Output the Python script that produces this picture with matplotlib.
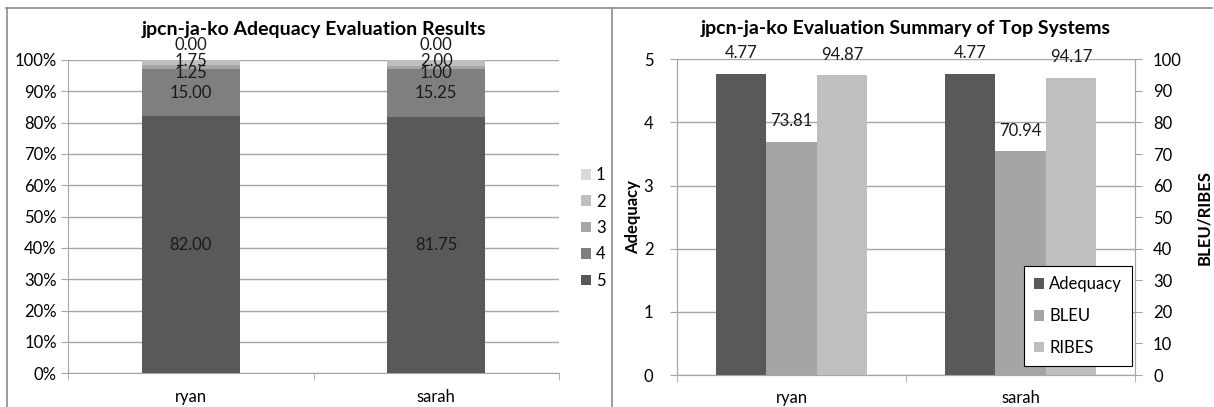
import matplotlib.pyplot as plt
import numpy as np
from matplotlib.lines import Line2D

plt.rcParams['font.family'] = ['Lato', 'DejaVu Sans']

# data
systems = ['ryan', 'sarah']
levels = ['5', '4', '3', '2', '1']
share_5 = [82.00, 81.75]
share_4 = [15.00, 15.25]
share_3 = [1.25, 1.00]
share_2 = [1.75, 2.00]
share_1 = [0.00, 0.00]

adequacy = [4.77, 4.77]
bleu = [73.81, 70.94]
ribes = [94.87, 94.17]

level_colors = ['#595959', '#7f7f7f', '#a5a5a5', '#bfbfbf', '#d9d9d9']
grid_c = '#a6a6a6'
fs = 12

fig = plt.figure(figsize=(12.14, 4.07), dpi=100)

# panel frame lines
W, H = 1214, 407
for xs, ys in [([6, 1212], [8, 8]), ([6.5, 6.5], [8, 407]), ([611.5, 611.5], [8, 407])]:
    fig.add_artist(Line2D([x / W for x in xs], [1 - y / H for y in ys],
                          color='#8c8c8c', lw=1.2))

# ---- left: stacked percentage bars
ax = fig.add_axes([68 / W, 1 - 373.3 / H, 491 / W, 313.3 / H])
x = np.arange(len(systems))
stack = [share_5, share_4, share_3, share_2, share_1]
# label nudges (px) so the small segments do not pile up
nudges = [0, 0, -5.5, 2, 15]
bottom = np.zeros(len(systems))
for vals, lab, col, nd in zip(stack, levels, level_colors, nudges):
    vals = np.array(vals)
    ax.bar(x, vals, 0.4, bottom=bottom, color=col, label=lab, zorder=3)
    for xi, b, v in zip(x, bottom, vals):
        ax.annotate(f'{v:.2f}', (xi, b + v / 2), xytext=(0, nd * 0.72),
                    textcoords='offset points', ha='center', va='center',
                    fontsize=fs, color='#1a1a1a', zorder=4)
    bottom += vals

ax.set_xlim(-0.5, 1.5)
ax.set_ylim(0, 100)
ax.set_yticks(np.arange(0, 101, 10))
ax.set_yticklabels([f'{v}%' for v in range(0, 101, 10)])
ax.set_xticks(x)
ax.set_xticklabels(systems)
ax.set_xticks([-0.5, 0.5, 1.5], minor=True)
ax.tick_params(axis='x', which='major', length=0, pad=11, labelsize=fs)
ax.tick_params(axis='x', which='minor', length=5, color=grid_c, direction='out')
ax.tick_params(axis='y', length=5, color=grid_c, labelsize=fs, pad=3)
ax.yaxis.grid(True, color=grid_c, lw=1, zorder=0)
for s in ['top', 'right']:
    ax.spines[s].set_visible(False)
for s in ['left', 'bottom']:
    ax.spines[s].set_color(grid_c)
ax.set_title('jpcn-ja-ko Adequacy Evaluation Results', fontsize=14,
             fontweight='bold', pad=18)

handles, labels = ax.get_legend_handles_labels()
fig.legend(handles[::-1], labels[::-1], loc='center left',
           bbox_to_anchor=(566 / W, 1 - 228 / H), frameon=False, fontsize=fs,
           handlelength=0.6, handleheight=0.6, handletextpad=0.3,
           labelspacing=0.62)

# ---- right: adequacy + BLEU/RIBES on twin axes
axl = fig.add_axes([677 / W, 1 - 375 / H, 458 / W, 315.7 / H])
axr = axl.twinx()
w = 0.22
b1 = axl.bar(x - w, adequacy, w, color='#595959', label='Adequacy', zorder=3)
b2 = axr.bar(x, bleu, w, color='#a5a5a5', label='BLEU', zorder=3)
b3 = axr.bar(x + w, ribes, w, color='#bfbfbf', label='RIBES', zorder=3)
for xi, v in zip(x - w, adequacy):
    axl.annotate(f'{v:.2f}', (xi, v), xytext=(0, 9), textcoords='offset points',
                 ha='center', va='bottom', fontsize=fs, color='#1a1a1a')
for xs_, vs in [(x, bleu), (x + w, ribes)]:
    for xi, v in zip(xs_, vs):
        axr.annotate(f'{v:.2f}', (xi, v), xytext=(0, 9), textcoords='offset points',
                     ha='center', va='bottom', fontsize=fs, color='#1a1a1a')

axl.set_xlim(-0.5, 1.5)
axl.set_ylim(0, 5)
axr.set_ylim(0, 100)
axl.set_yticks(range(0, 6))
axr.set_yticks(range(0, 101, 10))
axl.set_xticks(x)
axl.set_xticklabels(systems)
axl.set_xticks([-0.5, 0.5, 1.5], minor=True)
axl.tick_params(axis='x', which='major', length=0, pad=11, labelsize=fs)
axl.tick_params(axis='x', which='minor', length=5, color=grid_c)
axl.tick_params(axis='y', length=5, color=grid_c, labelsize=fs, pad=12)
axr.tick_params(axis='y', length=5, color=grid_c, labelsize=fs, pad=8)
axl.yaxis.grid(True, color=grid_c, lw=1, zorder=0)
axl.set_axisbelow(True)
for a in (axl, axr):
    a.spines['top'].set_visible(False)
    for s in ['left', 'right', 'bottom']:
        a.spines[s].set_color(grid_c)
axl.set_ylabel('Adequacy', fontsize=fs, fontweight='bold', labelpad=2)
axr.set_ylabel('BLEU/RIBES', fontsize=fs, fontweight='bold', labelpad=10)
axl.set_title('jpcn-ja-ko Evaluation Summary of Top Systems', fontsize=14,
              fontweight='bold', pad=18)

leg = axr.legend([b1, b2, b3], ['Adequacy', 'BLEU', 'RIBES'], loc='lower right',
                 bbox_to_anchor=(0.9934, 0.0285), fontsize=fs, fancybox=False,
                 edgecolor='#000000', framealpha=1, handlelength=0.6,
                 handleheight=0.6, handletextpad=0.3, labelspacing=0.95,
                 borderpad=0.6, borderaxespad=0)
leg.get_frame().set_linewidth(0.8)

fig.savefig('out.png', dpi=100)
